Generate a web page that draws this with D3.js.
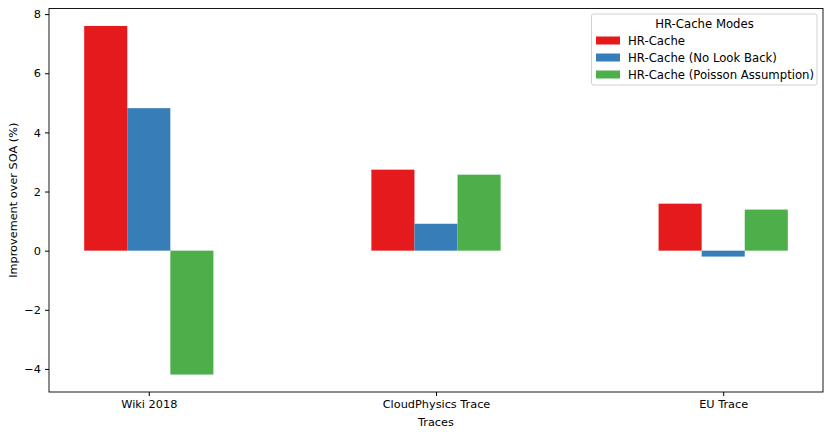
<!DOCTYPE html>
<html>
<head>
<meta charset="utf-8">
<script src="https://cdn.jsdelivr.net/npm/d3@7"></script>
<style>
  body { margin: 0; background: #fff; }
  text { font-family: "DejaVu Sans", sans-serif; }
</style>
</head>
<body>
<svg id="chart" width="831" height="436"></svg>
<script>
// data
var traces = ["Wiki 2018", "CloudPhysics Trace", "EU Trace"];
var modes = ["HR-Cache", "HR-Cache (No Look Back)", "HR-Cache (Poisson Assumption)"];
var hrCache = [7.6, 2.74, 1.59];
var noLookBack = [4.82, 0.91, -0.2];
var poisson = [-4.19, 2.57, 1.39];
var yTicks = [-4, -2, 0, 2, 4, 6, 8];
var colors = ["#e41a1c", "#377eb8", "#4daf4a"];

var series = [hrCache, noLookBack, poisson];
var fs = 11.3;

var svg = d3.select("#chart");
// plot box (window.top is read-only, so not "top")
var plotL = 49, plotR = 823, plotT = 8.5, plotB = 392;

// bars are 0.15 wide, groups at 0,1,2 (matplotlib-style margins)
var bw = 0.15;
var x = d3.scaleLinear().domain([-0.3475, 2.3475]).range([plotL, plotR]);
var y = d3.scaleLinear().domain([-4.78, 8.19]).range([plotB, plotT]);

var g = svg.append("g");

series.forEach(function(vals, si) {
  g.selectAll(".bar" + si)
    .data(vals)
    .enter()
    .append("rect")
    .attr("x", function(d, i) { return x(i + (si - 1) * bw - bw / 2); })
    .attr("width", x(bw) - x(0))
    .attr("y", function(d) { return y(Math.max(0, d)); })
    .attr("height", function(d) { return Math.abs(y(d) - y(0)); })
    .attr("fill", colors[si]);
});

// axes
var yAxis = d3.axisLeft(y).tickValues(yTicks).tickSize(4).tickPadding(4)
  .tickFormat(function(d) { return d < 0 ? "\u2212" + Math.abs(d) : d; });
var ya = svg.append("g").attr("transform", "translate(" + plotL + ",0)").call(yAxis);
ya.select(".domain").remove();
ya.selectAll("text").attr("font-size", fs).attr("fill", "#000").style("font-family", "DejaVu Sans");

var xAxis = d3.axisBottom(x).tickValues([0, 1, 2]).tickSize(4).tickPadding(4)
  .tickFormat(function(d) { return traces[d]; });
var xa = svg.append("g").attr("transform", "translate(0," + plotB + ")").call(xAxis);
xa.select(".domain").remove();
xa.selectAll("text").attr("font-size", fs).attr("fill", "#000").style("font-family", "DejaVu Sans");

svg.append("rect")
  .attr("x", plotL).attr("y", plotT)
  .attr("width", plotR - plotL).attr("height", plotB - plotT)
  .attr("fill", "none").attr("stroke", "#000").attr("stroke-width", 0.9);

// axis labels
svg.append("text")
  .attr("x", (plotL + plotR) / 2).attr("y", 426)
  .attr("text-anchor", "middle").attr("font-size", fs)
  .text("Traces");

svg.append("text")
  .attr("transform", "translate(17," + ((plotT + plotB) / 2) + ") rotate(-90)")
  .attr("text-anchor", "middle").attr("font-size", fs)
  .text("Improvement over SOA (%)");

// legend
var lfs = 11.7;
var lg = svg.append("g").attr("transform", "translate(591.5,14)");
lg.append("rect")
  .attr("width", 225.5).attr("height", 71).attr("rx", 2)
  .attr("fill", "#fff").attr("fill-opacity", 0.8)
  .attr("stroke", "#ccc").attr("stroke-width", 0.9);
lg.append("text")
  .attr("x", 113).attr("y", 13.5).attr("text-anchor", "middle")
  .attr("font-size", lfs).text("HR-Cache Modes");

var items = lg.selectAll(".item").data(modes).enter().append("g")
  .attr("transform", function(d, i) { return "translate(0," + (26.5 + i * 17) + ")"; });
items.append("rect")
  .attr("x", 4.5).attr("y", -4).attr("width", 24).attr("height", 8)
  .attr("fill", function(d, i) { return colors[i]; });
items.append("text")
  .attr("x", 36.5).attr("y", 4).attr("font-size", lfs)
  .text(function(d) { return d; });
</script>
</body>
</html>
